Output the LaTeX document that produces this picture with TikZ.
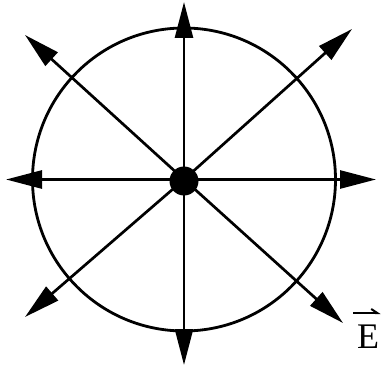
\documentclass[tikz,border=0pt]{standalone}
\usepackage{fontspec}
\setmainfont{Liberation Serif}
\usetikzlibrary{arrows.meta}
\begin{document}
\begin{tikzpicture}[x=1pt,y=-1pt,
  fieldline/.style={line width=2.7pt,-{Triangle[length=36pt,width=18pt]}},
  ring/.style={line width=2.8pt},
  charge/.style={circle,fill=black,inner sep=0pt,minimum size=29pt},
  lbl/.style={inner sep=0pt},
  vecbar/.style={line width=2pt,-{Straight Barb[left,length=6pt,width=8pt]}}]
\useasboundingbox (0,0) rectangle (381,369);
\coordinate (c) at (184,179.5);
\draw[ring] (c) circle[radius=151.5];
\coordinate (n) at (184,2);
\coordinate (s) at (184,365);
\coordinate (w) at (6,179.5);
\coordinate (e) at (376,179.5);
\coordinate (nw) at (25,35);
\coordinate (ne) at (352,29);
\coordinate (sw) at (25,317);
\coordinate (se) at (343,323);
\foreach \t in {n,s,w,e,nw,ne,sw,se}
  \draw[fieldline] (c) -- (\t);
\node[charge] (q) at (184,181) {};
\node[lbl,anchor=base west] (E) at (357,348) {\fontsize{36pt}{40pt}\selectfont E};
\coordinate (ea) at (353,313);
\coordinate (eb) at (380.5,313);
\draw[vecbar] (ea) -- (eb);
\end{tikzpicture}
\end{document}
